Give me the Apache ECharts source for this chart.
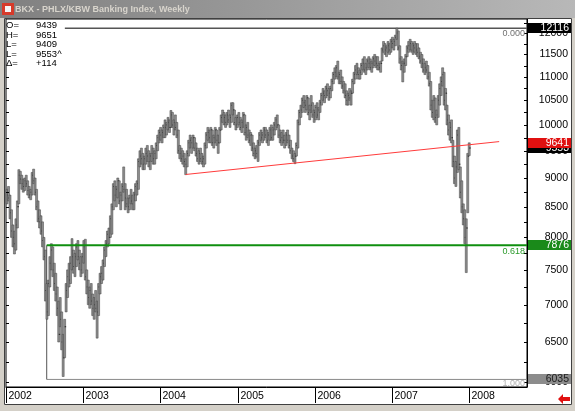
<!DOCTYPE html>
<html><head><meta charset="utf-8">
<script src="https://cdn.jsdelivr.net/npm/echarts@6/dist/echarts.min.js"></script>
<style>html,body{margin:0;padding:0;background:#fff}#c{width:575px;height:411px}</style>
</head><body><div id="c"></div>
<script>
// ---- data ----
const firstWeek = Date.UTC(2002, 0, 4);   // weekly bars from here
const highs = [
8800,8850,8700,8450,8200,8100,8300,8600,9150,
9120,9050,8980,9000,9050,8950,8850,8800,9100,
9160,9000,8800,8600,8450,8350,8250,8000,7800,
7300,7350,7700,7900,7850,7600,7450,7250,7050,
7100,6900,6600,6800,7300,7500,7600,7700,7980,
7800,7750,7900,7950,7800,7700,7750,7950,7970,
7500,7350,7250,7300,7150,7100,7200,7050,7300,
7450,7550,7650,7850,7950,8100,8150,8350,8550,
8900,8950,8850,9000,8950,8750,8900,9200,8900,
8800,8650,8700,8800,8700,8750,8900,8950,9350,
9500,9550,9450,9400,9550,9600,9500,9450,9600,
9550,9500,9650,9800,9900,9950,9900,10000,10100,
10050,10150,10100,10290,10250,10100,10200,10050,9900,
9600,9550,9500,9450,9350,9500,9700,9800,9750,
9800,9750,9650,9550,9500,9550,9450,9400,9650,
9850,9950,9900,9950,9900,9800,9950,9900,9800,
9950,10200,10300,10250,10200,10250,10300,10200,10450,
10450,10300,10150,10200,10250,10150,10100,10250,10200,
10000,10050,9900,9850,9800,9650,9550,9600,9700,
9850,9900,9850,9950,9950,9900,9850,9950,10000,
9950,10050,10150,10200,10000,9900,9850,9900,9800,
9850,9900,9800,9700,9550,9500,9450,9650,10100,
10300,10400,10550,10600,10500,10600,10550,10400,10600,
10450,10300,10400,10450,10350,10500,10650,10750,10700,
10800,10850,10750,10800,10950,11100,11200,11250,11350,
11100,11150,11000,10900,10850,10700,10650,10750,10700,
10950,11100,11250,11300,11200,11150,11300,11400,11450,
11300,11400,11450,11400,11350,11450,11500,11450,11450,
11300,11350,11650,11800,11750,11700,11800,11750,11850,
11900,11850,11950,12116,12050,11700,11450,11350,11400,
11500,11700,11800,11850,11800,11750,11800,11750,11750,
11650,11550,11500,11400,11300,11350,11250,11100,10900,
10500,10600,10550,10300,10600,10850,11000,11200,11100,
10750,10400,10200,10050,10100,9700,9400,9300,9900,
9950,9200,8950,8550,8450,8300,9450,9651];
const lows = [
8550,8600,8300,8000,7850,7740,7800,8150,8550,
8900,8800,8750,8780,8850,8700,8650,8620,8700,
8900,8700,8450,8250,8150,8050,7850,7650,7050,
6800,6850,7250,7500,7400,7200,7050,6850,6500,
6700,6400,6070,6300,6900,7100,7250,7300,7500,
7450,7400,7550,7650,7500,7400,7450,7600,7350,
7150,7000,6950,7000,6850,6800,6900,6550,6850,
7150,7300,7350,7550,7700,7850,7900,8000,8050,
8450,8600,8500,8650,8550,8450,8600,8750,8450,
8500,8400,8450,8550,8450,8450,8600,8700,8800,
9200,9250,9150,9150,9250,9300,9200,9150,9300,
9250,9250,9350,9500,9650,9700,9650,9750,9750,
9800,9900,9850,9950,9950,9800,9900,9750,9450,
9350,9300,9250,9200,9060,9200,9400,9550,9450,
9550,9500,9400,9300,9250,9300,9250,9200,9250,
9550,9700,9650,9650,9600,9550,9650,9600,9450,
9650,9900,10050,10000,9950,10000,10050,9950,10050,
10200,10000,9900,9950,10000,9900,9850,9950,9800,
9700,9750,9650,9600,9500,9400,9350,9380,9300,
9600,9700,9650,9700,9750,9650,9600,9700,9700,
9700,9800,9900,9950,9750,9650,9600,9650,9550,
9600,9650,9550,9450,9350,9300,9260,9400,9550,
10000,10150,10250,10350,10250,10300,10200,10100,10250,
10150,10050,10100,10150,10100,10250,10400,10500,10450,
10550,10600,10500,10550,10700,10850,10950,11000,10950,
10850,10850,10750,10650,10550,10400,10400,10500,10400,
10650,10850,10950,11050,10950,10950,11050,11150,11100,
11050,11150,11200,11150,11100,11200,11250,11200,11150,
11150,11100,11350,11550,11500,11450,11550,11500,11550,
11650,11600,11700,11850,11600,11300,11150,10890,11100,
11250,11450,11550,11600,11550,11500,11550,11500,11450,
11400,11300,11200,11100,11050,11100,10950,10800,10300,
10150,10100,10050,10000,10150,10400,10600,10800,10400,
10300,10000,9800,9700,9650,9200,8900,8850,9100,
9150,8650,8400,8200,7900,7460,8400,9409];
const closes = [
8700,8650,8400,8100,8000,7900,8200,8500,9050,
8980,8900,8850,8950,8900,8780,8700,8750,9050,
8950,8750,8500,8300,8250,8100,7950,7700,7200,
6900,7300,7600,7800,7500,7300,7150,6950,6600,
6800,6500,6300,6700,7200,7400,7350,7600,7700,
7550,7700,7850,7700,7600,7500,7700,7850,7400,
7250,7100,7200,7050,6950,7000,6950,6900,7250,
7400,7450,7600,7800,7900,8050,8000,8300,8500,
8850,8700,8800,8950,8600,8700,8850,8800,8650,
8550,8500,8650,8600,8550,8700,8850,8900,9300,
9400,9350,9250,9350,9450,9400,9300,9400,9450,
9350,9450,9600,9750,9850,9800,9850,9950,9950,
10000,10050,9950,10200,10000,10050,9950,9800,9500,
9450,9350,9400,9300,9250,9450,9650,9700,9650,
9750,9550,9450,9350,9450,9350,9300,9350,9600,
9800,9850,9750,9900,9650,9750,9900,9700,9650,
9900,10150,10200,10150,10050,10200,10100,10150,10400,
10300,10050,10000,10150,10050,9950,10050,10200,9850,
9950,9800,9700,9800,9550,9450,9500,9450,9650,
9800,9750,9800,9900,9800,9700,9800,9900,9750,
9900,10000,10100,10000,9800,9700,9750,9700,9700,
9800,9700,9600,9500,9400,9350,9400,9600,10050,
10250,10300,10500,10450,10400,10550,10250,10300,10400,
10200,10250,10350,10200,10300,10450,10600,10650,10600,
10750,10700,10650,10750,10900,11050,11100,11200,11000,
11050,10900,10800,10700,10600,10500,10600,10550,10650,
10900,11050,11150,11100,11050,11100,11250,11300,11150,
11200,11350,11300,11200,11300,11400,11350,11300,11250,
11200,11300,11600,11700,11600,11650,11700,11600,11800,
11750,11800,11900,12000,11650,11400,11250,11300,11300,
11450,11650,11700,11750,11600,11700,11650,11600,11550,
11450,11350,11300,11150,11200,11150,11000,10850,10400,
10250,10500,10150,10200,10500,10750,10900,11050,10500,
10650,10100,9900,9950,9750,9300,9000,9200,9800,
9250,8750,8500,8300,8000,8150,9400,9553];

const priceTicks = [6000,6500,7000,7500,8000,8500,9000,9500,10000,10500,11000,11500,12000];
const priceMinorTicks = [6000,6250,6500,6750,7000,7250,7500,7750,8000,8250,8500,8750,9000,9250,9500,9750,10000,10250,10500,10750,11000,11250,11500,11750,12000,12250];
const yearTicks = [2002,2003,2004,2005,2006,2007,2008];
const fibTop = 12116, fibMid = 7876, fibLow = 6035;
const fibTexts = ['0.000','0.618','1.000'];
const trendStart = [Date.UTC(2004,3,30), 9063];
const trendEnd = [Date.UTC(2008,4,25), 9674];
const trendValue = 9641, lastClose = 9553;
const infoNames = ['O=','H=','L=','L=','\u0394='];
const infoValues = ['9439','9651','9409','9553^','+114'];
const titleText = 'BKX - PHLX/KBW Banking Index, Weekly';

// ---- chart ----
const xMin = Date.UTC(2001,11,30), xMax = Date.UTC(2008,9,4);
const fibStartA = Date.UTC(2002,6,11), fibStartB = Date.UTC(2002,9,5);
const DAY = 86400000;
const bars = highs.map((h,i)=>[firstWeek + i*7*DAY, h, lows[i], closes[i]]);
const FONT = 'Liberation Sans, Arial, sans-serif';

const chart = echarts.init(document.getElementById('c'), null, {renderer:'canvas'});
const lineSeries = (data, color, width, z) => ({type:'line', data, symbol:'none', silent:true, animation:false, z,
  lineStyle:{color, width}});
chart.setOption({
  animation:false,
  backgroundColor:'#ffffff',
  grid:{left:6, right:48, top:19, bottom:24, show:true, borderColor:'#000', borderWidth:1, backgroundColor:'#fff'},
  xAxis:{type:'time', min:xMin, max:xMax,
    axisLine:{show:true, lineStyle:{color:'#000'}},
    axisTick:{show:false}, axisLabel:{show:false}, splitLine:{show:false}},
  yAxis:{type:'log', logBase:10, position:'right', min:5945, max:12338,
    axisLine:{show:true, onZero:false, lineStyle:{color:'#000'}},
    axisTick:{show:false}, axisLabel:{show:false}, splitLine:{show:false}},
  series:[
    lineSeries([[fibStartB,fibTop],[xMax,fibTop]], '#555555', 1.5, 1),
    lineSeries([[fibStartA,fibLow],[xMax,fibLow]], '#8a8a8a', 1, 1),
    lineSeries([[fibStartA,fibMid],[fibStartA,fibLow]], '#555555', 1, 1),
    {type:'custom', data:bars, z:3, animation:false, silent:true,
      encode:{x:0, y:[1,2]},
      renderItem:(params, api)=>{
        const t = api.value(0);
        const hi = api.coord([t, api.value(1)]);
        const lo = api.coord([t, api.value(2)]);
        const c = api.coord([t, api.value(3)]);
        return {type:'group', children:[
          {type:'rect', shape:{x:hi[0]-1, y:hi[1], width:2, height:Math.max(1, lo[1]-hi[1])},
            style:{fill:'#8e8e8e', stroke:'#404040', lineWidth:0.5}},
          {type:'rect', shape:{x:c[0], y:c[1]-0.5, width:1.5, height:1}, style:{fill:'#202020'}}
        ]};
      }},
    lineSeries([[fibStartA,fibMid],[xMax,fibMid]], '#0f8f0f', 2, 4),
    lineSeries([trendStart, trendEnd], '#ff3b3b', 1, 4)
  ]
});

// ---- overlays placed with the chart's own scales ----
const py = v => chart.convertToPixel({yAxisIndex:0}, v);
const px = t => chart.convertToPixel({xAxisIndex:0}, t);
const axX = 527;
const g = [];
function box(value, text, fill, color, z){
  const y = Math.round(py(value));
  g.push({type:'rect', z, shape:{x:axX+1, y:y-5, width:45, height:10}, style:{fill}});
  g.push({type:'text', z:z+1, x:569, y:y, style:{text, fill:color, font:'10.5px '+FONT, align:'right', verticalAlign:'middle'}});
}
// price axis ticks (right and left edges) and labels
priceMinorTicks.forEach(v=>{
  const y = Math.round(py(v))+0.5;
  if (y > 20 && y < 387) {
    g.push({type:'line', z:10, shape:{x1:axX-3,y1:y,x2:axX,y2:y}, style:{stroke:'#000', lineWidth:1}});
    if (y > 70) g.push({type:'line', z:10, shape:{x1:6,y1:y,x2:9,y2:y}, style:{stroke:'#000', lineWidth:1}});
  }
});
priceTicks.forEach(v=>{
  g.push({type:'text', z:10, x:568, y:py(v), style:{text:String(v), fill:'#000', font:'10.5px '+FONT, align:'right', verticalAlign:'middle'}});
});
// year ticks and labels
yearTicks.forEach(yr=>{
  const x = Math.round(px(Date.UTC(yr,0,1)))+0.5;
  g.push({type:'line', z:10, shape:{x1:x,y1:388,x2:x,y2:403}, style:{stroke:'#000', lineWidth:1}});
  g.push({type:'text', z:10, x:x+2, y:396, style:{text:String(yr), fill:'#000', font:'10.5px '+FONT, verticalAlign:'middle'}});
});
// window title bar
g.push({type:'rect', z:50, shape:{x:0,y:0,width:575,height:18},
  style:{fill:new echarts.graphic.LinearGradient(0,0,1,0,[{offset:0,color:'#808080'},{offset:1,color:'#b8b8b8'}])}});
g.push({type:'rect', z:51, shape:{x:2,y:3,width:12,height:12}, style:{fill:'#d63a2a'}});
g.push({type:'rect', z:52, shape:{x:5,y:6,width:6,height:6}, style:{fill:'#f4f4f4'}});
g.push({type:'text', z:51, x:15, y:9.5, style:{text:titleText, fill:'#d8d4cc', font:'bold 9px '+FONT, verticalAlign:'middle'}});
// window frame
g.push({type:'rect', z:50, shape:{x:0,y:18,width:4,height:393}, style:{fill:'#d4d0c8'}});
g.push({type:'rect', z:50, shape:{x:572,y:18,width:3,height:393}, style:{fill:'#d4d0c8'}});
g.push({type:'rect', z:50, shape:{x:0,y:405,width:575,height:6}, style:{fill:'#d4d0c8'}});
g.push({type:'rect', z:49, shape:{x:4.5,y:18.5,width:567,height:386}, style:{fill:null, stroke:'#404040', lineWidth:1}});
// info panel
const rowY = [25.5,35,44.5,54,63.5];
infoNames.forEach((n,i)=>{
  g.push({type:'text', z:20, x:6, y:rowY[i], style:{text:n, fill:'#000', font:'9.5px '+FONT, verticalAlign:'middle'}});
  g.push({type:'text', z:20, x:36, y:rowY[i], style:{text:infoValues[i], fill:'#000', font:'9.5px '+FONT, verticalAlign:'middle'}});
});
// fib ratio texts
g.push({type:'text', z:20, x:525, y:py(fibTop)+5, style:{text:fibTexts[0], fill:'#707070', font:'9px '+FONT, align:'right', verticalAlign:'middle'}});
g.push({type:'text', z:20, x:525, y:py(fibMid)+6, style:{text:fibTexts[1], fill:'#2a9a2a', font:'9px '+FONT, align:'right', verticalAlign:'middle'}});
g.push({type:'text', z:20, x:525, y:py(fibLow)+4, style:{text:fibTexts[2], fill:'#b0b0b0', font:'9px '+FONT, align:'right', verticalAlign:'middle'}});
// value boxes on the price axis
box(fibTop, String(fibTop), '#000', '#fff', 30);
box(lastClose, String(lastClose), '#000', '#fff', 30);
box(trendValue, String(trendValue), '#e01010', '#fff', 32);
box(fibMid, String(fibMid), '#1a8a1a', '#fff', 30);
box(fibLow, String(fibLow), '#8c8c8c', '#202020', 30);
// red arrow bottom right
g.push({type:'polygon', z:30, shape:{points:[[558,399],[563,394],[563,397],[570,397],[570,401],[563,401],[563,404]]}, style:{fill:'#e01010'}});
chart.setOption({graphic:g});
</script></body></html>
